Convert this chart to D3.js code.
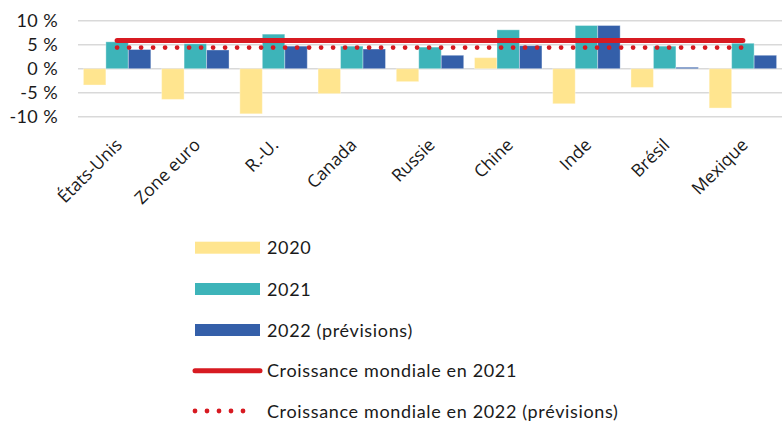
<!DOCTYPE html>
<html lang="fr">
<head>
<meta charset="utf-8">
<script src="https://cdn.jsdelivr.net/npm/d3@7"></script>
<style>
  html, body { margin: 0; padding: 0; background: #ffffff; }
  svg { display: block; }
</style>
</head>
<body>
<svg id="chart" width="784" height="422"></svg>
<script>
// Croissance du PIB réel (%), par économie
const categories = ["États-Unis", "Zone euro", "R.-U.", "Canada", "Russie", "Chine", "Inde", "Brésil", "Mexique"];
const growth2020 = [-3.4, -6.4, -9.4, -5.2, -2.7, 2.3, -7.3, -3.9, -8.2];
const growth2021 = [5.6, 5.2, 7.2, 4.7, 4.5, 8.1, 9.0, 4.7, 5.3];
const growth2022 = [4.0, 3.9, 4.7, 4.1, 2.8, 4.8, 9.0, 0.3, 2.8];
const worldGrowth2021 = 5.9;
const worldGrowth2022 = 4.4;
const yTicks = [10, 5, 0, -5, -10];

const seriesNames = ["2020", "2021", "2022 (prévisions)"];
const lineNames = ["Croissance mondiale en 2021", "Croissance mondiale en 2022 (prévisions)"];

const colors = {
  "2020": "#FFE58F",
  "2021": "#3DB4B9",
  "2022 (prévisions)": "#345FA9",
  line: "#D71A21",
  grid: "#D9D9D9"
};

const series = [growth2020, growth2021, growth2022];

const svg = d3.select("#chart");
const plot = { left: 78, right: 782, top: 20.7, bottom: 116.7 };

const x0 = d3.scaleBand()
  .domain(categories)
  .range([plot.left, plot.right])
  .paddingInner(0.138)
  .paddingOuter(0.069);

const x1 = d3.scaleBand()
  .domain(seriesNames)
  .range([0, x0.bandwidth()])
  .padding(0);

const y = d3.scaleLinear()
  .domain([-10, 10])
  .range([plot.bottom, plot.top]);

// Horizontal grid
svg.append("g")
  .selectAll("line")
  .data(yTicks)
  .join("line")
  .attr("x1", plot.left)
  .attr("x2", plot.right)
  .attr("y1", d => y(d))
  .attr("y2", d => y(d))
  .attr("stroke", colors.grid)
  .attr("stroke-width", 1.6);

// Y axis labels
const fmt = d => (d < 0 ? "-" : "") + Math.abs(d) + " %";
svg.append("g")
  .selectAll("text")
  .data(yTicks)
  .join("text")
  .attr("x", 58)
  .attr("y", d => y(d) + 6)
  .attr("text-anchor", "end")
  .attr("font-family", "Lato, 'Noto Sans', sans-serif")
  .attr("font-size", 18)
  .attr("letter-spacing", 0.4)
  .attr("fill", "#1a1a1a")
  .text(fmt);

// Bars
const groups = svg.append("g")
  .selectAll("g")
  .data(categories)
  .join("g")
  .attr("transform", d => `translate(${x0(d)},0)`);

groups.selectAll("rect")
  .data((c, i) => seriesNames.map((s, k) => ({ s, v: series[k][i] })))
  .join("rect")
  .attr("x", d => x1(d.s))
  .attr("width", x1.bandwidth())
  .attr("y", d => y(Math.max(0, d.v)))
  .attr("height", d => Math.abs(y(d.v) - y(0)))
  .attr("fill", d => colors[d.s])
  .attr("stroke", "#ffffff")
  .attr("stroke-opacity", 0.35)
  .attr("stroke-width", 1);

// World growth lines, from first to last category centre
const xStart = x0(categories[0]) + x0.bandwidth() / 2;
const xEnd = x0(categories[categories.length - 1]) + x0.bandwidth() / 2;

svg.append("line")
  .attr("x1", xStart).attr("x2", xEnd)
  .attr("y1", y(worldGrowth2021)).attr("y2", y(worldGrowth2021))
  .attr("stroke", colors.line)
  .attr("stroke-width", 5)
  .attr("stroke-linecap", "round");

svg.append("line")
  .attr("x1", xStart).attr("x2", xEnd)
  .attr("y1", y(worldGrowth2022)).attr("y2", y(worldGrowth2022))
  .attr("stroke", colors.line)
  .attr("stroke-width", 4.8)
  .attr("stroke-linecap", "round")
  .attr("stroke-dasharray", "0 12");

// Category labels, rotated
svg.append("g")
  .selectAll("text")
  .data(categories)
  .join("text")
  .attr("text-anchor", "end")
  .attr("transform", d => `translate(${x0(d) + x0.bandwidth() / 2 + 6},${146}) rotate(-45)`)
  .attr("font-family", "'Open Sans', sans-serif")
  .attr("font-size", 17.5)
  .attr("fill", "#1a1a1a")
  .text(d => d);

// Legend
const legend = svg.append("g");
const legendX = 195, swatchW = 65, textX = 267;
const rowY = [247.7, 289, 330, 370.7, 411];
const legendFont = "Lato, 'Noto Sans', sans-serif";

seriesNames.forEach((s, i) => {
  legend.append("rect")
    .attr("x", legendX).attr("y", rowY[i] - 6)
    .attr("width", swatchW).attr("height", 12)
    .attr("fill", colors[s]);
  legend.append("text")
    .attr("x", textX).attr("y", rowY[i] + 6.5)
    .attr("font-family", legendFont)
    .attr("font-size", 18)
    .attr("letter-spacing", 0.65)
    .attr("fill", "#1a1a1a")
    .text(s);
});

legend.append("line")
  .attr("x1", legendX).attr("x2", legendX + swatchW)
  .attr("y1", rowY[3]).attr("y2", rowY[3])
  .attr("stroke", colors.line)
  .attr("stroke-width", 5)
  .attr("stroke-linecap", "round");

legend.append("line")
  .attr("x1", legendX).attr("x2", legendX + 60)
  .attr("y1", rowY[4]).attr("y2", rowY[4])
  .attr("stroke", colors.line)
  .attr("stroke-width", 4.8)
  .attr("stroke-linecap", "round")
  .attr("stroke-dasharray", "0 12");

lineNames.forEach((s, i) => {
  legend.append("text")
    .attr("x", textX).attr("y", rowY[3 + i] + 6.5)
    .attr("font-family", legendFont)
    .attr("font-size", 18)
    .attr("letter-spacing", 0.65)
    .attr("fill", "#1a1a1a")
    .text(s);
});
</script>
</body>
</html>
